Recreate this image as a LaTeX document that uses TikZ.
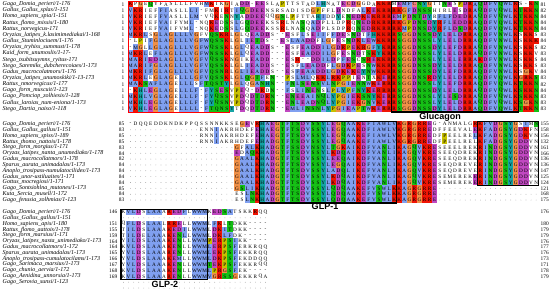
\documentclass[tikz,border=0pt]{standalone}
\usepackage{fontspec}
\setmainfont{Liberation Serif}
\newfontfamily\lblfont{Liberation Sans}
\definecolor{cb}{HTML}{80A0F0}
\definecolor{cr}{HTML}{F01505}
\definecolor{cm}{HTML}{C048C0}
\definecolor{cgr}{HTML}{15C015}
\definecolor{co}{HTML}{F09048}
\definecolor{cy}{HTML}{C8C000}
\definecolor{cc}{HTML}{15A4A4}
\definecolor{cp}{HTML}{F08080}
\colorlet{rcA}{cb}\colorlet{rcB}{white}\colorlet{rcC}{cp}\colorlet{rcD}{cm}
\colorlet{rcE}{cm}\colorlet{rcF}{cb}\colorlet{rcG}{co}\colorlet{rcH}{cc}
\colorlet{rcI}{cb}\colorlet{rcJ}{white}\colorlet{rcK}{cr}\colorlet{rcL}{cb}
\colorlet{rcM}{cb}\colorlet{rcN}{cgr}\colorlet{rcO}{white}\colorlet{rcP}{cy}
\colorlet{rcQ}{cgr}\colorlet{rcR}{cr}\colorlet{rcS}{cgr}\colorlet{rcT}{cgr}
\colorlet{rcU}{white}\colorlet{rcV}{cb}\colorlet{rcW}{cb}\colorlet{rcX}{white}
\colorlet{rcY}{cc}\colorlet{rcZ}{white}
\newdimen\sqx \newdimen\sqxb \newdimen\sqxm
\newdimen\sqy \newdimen\sqyt \newdimen\sqyb
\newdimen\sqrowx \newdimen\sqcw \newdimen\sqhh
\newcount\sqci
\sqcw=5.07pt
\def\drawcell#1{%
  \sqx=\sqcw \multiply\sqx by \sqci \advance\sqx by \sqrowx
  \sqxb=\sqx \advance\sqxb by \sqcw
  \sqxm=\sqx \advance\sqxm by 0.5\sqcw
  \ifnum`#1=46 \fill[gray] (\sqxm,\sqy) circle (0.35pt);%
  \else\ifnum`#1=45 \node[res] at (\sqxm,\sqy) {-};%
  \else\ifnum`#1<97 \fill[fill=rc#1] (\sqx,\sqyt) rectangle (\sqxb,\sqyb);%
     \node[res] at (\sqxm,\sqy) {#1};%
  \else \node[res] at (\sqxm,\sqy) {\uppercase{#1}};%
  \fi\fi\fi}
\def\seqscan#1{\ifx#1\relax\else\drawcell{#1}\advance\sqci by 1 \expandafter\seqscan\fi}
\newcommand\arow[6]{%
  \sqy=-#1pt \sqyt=\sqy \advance\sqyt by \sqhh \sqyb=\sqy \advance\sqyb by -\sqhh
  \if\relax\detokenize{#2}\relax\else\node[nm,anchor=west] at (2.5pt,\sqy) {\detokenize{#2}};\fi
  \if\relax\detokenize{#3}\relax\else\node[num,anchor=east] at ({#4pt-3.5pt},\sqy) {#3};\fi
  \sqrowx=#4pt \sqci=0 \seqscan#5\relax
  \if\relax\detokenize{#6}\relax\else\node[num,anchor=west] at (540.5pt,\sqy) {#6};\fi}
\begin{document}
\begin{tikzpicture}[
  res/.style={inner sep=0pt, font=\fontsize{5.2}{6}\selectfont},
  nm/.style={inner sep=0pt, font=\fontsize{6.0}{7}\selectfont\itshape},
  num/.style={inner sep=0pt, font=\fontsize{5.4}{6}\selectfont},
  lbl/.style={inner sep=0.6pt, font=\lblfont\fontsize{9}{10}\selectfont\bfseries},
  redbox/.style={draw=red, line width=0.9pt},
  blkbox/.style={draw=black, line width=1.1pt}]
\useasboundingbox (0pt,0pt) rectangle (550pt,-299pt);
\fill[white] (0pt,0pt) rectangle (550pt,-299pt);
% ---------- block 1
\sqhh=3.075pt
\arow{4.3}{Gaga_Domia_perieri/1-176}{1}{128}{KpGeQyfaslllfvhMKikGiaDD-EEslaPttstadLHnatECDGgdaKKRmEMFCNYGtiNEsPDRAQDFVQWLKs-KN}{81}
\arow{10.45}{Gallus_Gallus_splas/1-151}{1}{128}{VKRiefFIasllLI-fmKiRtIQGDEEnsrsadisdGPfflDndfaLKEKRRRKGFDNSShirlEsDRAQDFVQWLKTKKN}{82}
\arow{16.6}{Homo_sapiens_spia/1-151}{1}{128}{VKRiefFVasllLM-vqKeNnYaDDEEqqGSlPfttaHIddYeNEDKEKRRREMPDNTDYrFLFDEDRAQDFVQWLKTKKN}{84}
\arow{22.75}{Rattus_flomo_missis/1-180}{1}{128}{VKRiefVAifymL-nqKEdSsLgQDEEkssRlnaSqADplldpRqNEDRKRRRKGPDNSDYRFLEDDRAQDFVQWLKTKKN}{84}
\arow{28.9}{Rattus_norvegicus-171}{1}{128}{VKRiefVAifvmL-nqKEdSsLgQDEEkssRlnaSqADplsdpRqNEDRKRRRKMPDNSDYRFLDSDRAQDFVQWLKTKKN}{84}
\arow{35.05}{Oryzias_latipes_k.lasimimediakai/1-168}{1}{128}{MKRLsGLAGLLLVGfvQSKRlGlqEADDs--EsfLsEIIfFDEsNDtFHKKRRSGGDNSSDYLELDRRAQDFVNWLKsKKs}{83}
\arow{41.2}{Gallus_Stuminlociuem/1-176}{1}{128}{-lPiFGLAGLLLVGFWQSSKlGlIETDs--EsLAADDfLGfEsNDKLEWKKRRSGGDNSSLYLELDRRAQDFVNWLKsKKK}{84}
\arow{47.35}{Oryzias_tryhiss_summust/1-178}{1}{128}{-MGlLGLAGLLLVGFWQSSKlGLqEADDs--EsfEADDILGDRPEKRGFYKRRSGGDNSSDYLEFDRRAQDFVNWLKsKKs}{82}
\arow{53.5}{Kaid_form_unumoslis/1-17-}{1}{128}{MKRLeFLAGLLLVGFWNSSKlGLqEADD---EsfEADDILGfEsNDtSKYKRRSGGDNSSLYLELDRRAQDFVNWLKsKKv}{83}
\arow{59.65}{Stego_tsubitsuymns_ryitus-171}{1}{128}{MARIEDLAGLLLVGFVQSSKnGikEADD---EsR--DDILDpFEScSREKKRRSGGDNSSLYLELERRAKDFVNWLKsKKs}{84}
\arow{65.8}{Stego_Saremiks_dubcherecoiaes/1-173}{1}{128}{MARIFGLAGLLLVGFVQSSKlGlIEADDs--EsfLEADDfLGDKPEsNWKKRRSGGDNSSDYLELDRRAQDFVNWLKsKKs}{83}
\arow{71.95}{Gadus_macrocolatmors/1-176}{1}{128}{MKRIFGLAGLLLVGFVQSNRlGLIEADDs--EsFEAADDLGDKEKEYNWKKRRSGGDNSSDYLEFDRRAQDFVNWLKsGKv}{84}
\arow{78.1}{Oryzias_latipes_unumoskiki/1-13-173}{1}{128}{MKRLeGLAGeLLLGFVQSSKlGLQGTFeN--PsLMLqKKLRKPPiEnTXKERRSGGDNSRDYLELDRRAQDFVQWLKGRKS}{83}
\arow{84.25}{Rattus_nmorvegicus/1-177}{1}{128}{MAKSAFLAGeLLLsFTQSTYlGLqGANHN--FNLSENSVLNPGIENNWKERRRSGGDNSSLYLEFDRRAQDFVQWLKTKKN}{82}
\arow{90.4}{Gago_form_muscuit/1-123}{1}{128}{-KHLEGLAGeLLLF-FYSESvPEq-DRdN--FsLINENsLPLYPFNYKERRRRSGGDNSSDYLELDRRAQDFVQWLKSKKN}{84}
\arow{96.55}{Gago_Pomciop_zolhiesis/1-128}{1}{128}{MKHLVGLAGeLLLF-FYQSSvPDqDTDRN--ENEEAINQLYPGIEKSNYKERRSGGDNSSLYLESDRRAQDFVQWLKSKKN}{83}
\arow{102.7}{Gallus_laroias_num-eniona/1-173}{1}{128}{MKHLEGLAGeLLLF-FYQSNvPDqDTDRN--ENLEADNQLYPGIEKGNVKERRSGGDNSSLYLELDRRAQDFVQWLKSGKN}{83}
\arow{108.85}{Stego_Dartia_naiso/1-118}{1}{128}{VKHLEGLAGeLLLL-FTQNSYtDqDTDRN--EMLINSNLYPGIEAPTWKERRRSGGDNSSDYLELDRRAQDFVQWLKTKKN}{83}
\draw[redbox] (128pt,-1.2pt) rectangle (229.4pt,-112pt);
\draw[blkbox] (391.6pt,-1.2pt) rectangle (518.4pt,-112pt);
\node[lbl] (glucagon) at (440pt,-117pt) {Glucagon};
% ---------- block 2
\sqhh=2.925pt
\arow{124}{Gago_Domia_perieri/1-176}{85}{128}{-dqqeddkndkppqssnnkkseGEvRHAEGTFTSDVSSYLEGQAAKEFIAWLVKGRGRREg-anmalgRKFVDGSYGsImN}{155}
\arow{129.85}{Gallus_Gallus_gallus/1-151}{83}{128}{..............ennIakrhdefEHAEGTFTSDVSSYLEGQAAKDFIAWLVKGRGRREdffeevalEKFADGSYGDKfn}{158}
\arow{135.7}{Homo_sapiens_spiss/1-189}{85}{128}{..............rnnIakrhdefEHAEGTFTSDVSSYLEGQAAKEFIAWLVKGRGRREdfPeelreLKFADGSYGDKvn}{156}
\arow{141.55}{Rattus_thomo_nattois/1-178}{85}{128}{..............rnnIakrhdefEHADGTFTSDVSSYLEGQAAKEFIAWLVKGRGRREdfPeelrelKFADGSYGDDvn}{132}
\arow{147.4}{Stego_form_morgius/1-171}{83}{128}{.....................GfALKHADGTFSSDVNSYLTGKAIKDFVANLIKAGQVKREseeelrekRINDGSYGDDvn}{161}
\arow{153.25}{Oryzas_latipes_nanta_unumediako/1-178}{84}{128}{.....................EdAQKHADGTFTSDVSSYLKDQAIKDFVANLIKAGQVKREseeqdrekRINDGSYGDDvn}{166}
\arow{159.1}{Gadus_macrocollatmors/1-178}{82}{128}{.....................GAALKHADGTFTSDVSSYLEEQAIKDFVANLIKAGQVKREseeqdrekRINDGSYGDDvn}{136}
\arow{164.95}{Sparus_aurata_unimadalas/1-173}{84}{128}{.....................GAALKHADGTFTSDVSSYLEGQAIKDFVANLIKAGQVKREseqdreveRINDGSYGDDvn}{136}
\arow{170.8}{Anoplo_trosipass-numulatocilides/1-173}{84}{128}{.....................GAALKHADGTFTSDVSSYLADQLIKEFVANLIKAGQVKREseqdreveRINDGSYGDDvn}{147}
\arow{176.65}{Gadus_unor-ustiluaites/1-171}{84}{128}{.....................GAALKHADGTFTSDVSSYLKDQAIKDFVANLIKAGQVKREsemerekERINDGSYGDDvn}{125}
\arow{182.5}{Gottus_mocregiosi/1-171}{84}{128}{.....................GAALKHADGTFTSDVSSYLKDQAIKDFVANLIKAGQVKREsemerekERINDGSYGDDvn}{124}
\arow{188.35}{Gago_Sontsiohlna_mutones/1-173}{85}{128}{.....................GSLIKHADGTFTSDVSSYLQDQAAKEFVSWLKKAGRGRRE....................}{121}
\arow{194.2}{Kuta_Sercia_musell/1-172}{84}{128}{.....................esLNKHADGTFTSDVSSYLQDQAAKEFVSWLKKAGRGRRE....................}{168}
\arow{200.05}{Gago_fenusia_zolhmias/1-123}{83}{128}{.....................esLNKHADGTFTSDVSSYLQDQAAKEFVSWLKKAGRGRRE....................}{175}
\draw[blkbox] (259.8pt,-121.07pt) rectangle (396.7pt,-202.98pt);
\draw[blkbox] (477.8pt,-121.07pt) rectangle (538.7pt,-185.43pt);
\node[lbl] (glp1) at (325pt,-206.5pt) {GLP-1};
% ---------- block 3
\arow{212}{Gago_Domia_perieri/1-176}{146}{121}{kVLDsLAAaREDFlWWMkEDSAtskkRqq}{176}
\arow{217.85}{Gallus_Gallus_gallus/1-151}{}{121}{.............................}{}
\arow{223.7}{Homo_sapiens_apis/1-180}{151}{121}{qFLDsLAAlRREllWWMlFKlTdkk----}{180}
\arow{229.55}{Rattus_flomo_aattois/1-178}{155}{121}{tILDsLAAaKEDIlWWMlDKITdkk----}{179}
\arow{235.4}{Stego_form_marsius/1-171}{159}{121}{tILDeLAAaKENLlWWMlDKLFdk-----}{179}
\arow{241.25}{Oryzas_latipes_nasta_unimediako/1-173}{164}{121}{yILDsLAAaKENllWWMPERPSIkk----}{176}
\arow{247.1}{Gadus_macrocollatmors/1-172}{164}{121}{kVLDsLAAaKENllWWMLERPSFerkrqq}{177}
\arow{252.95}{Sparus_aurata_unimadalas/1-173}{165}{121}{yVLDsLAAaRENllWWMLEKPSFekkrqq}{176}
\arow{258.8}{Anoplo_trosipass-cumulatocilams/1-173}{166}{121}{yVLDsLAAaKEMllWWMLDKPSFekddqq}{173}
\arow{264.65}{Gago_Sarimaca_marsius/1-173}{167}{121}{yVLDsLAAaKENllWWMTEKPSFekkrqq}{171}
\arow{270.5}{Gago_chunio_aervia/1-172}{168}{121}{kVLDsLAAaKENllWWMLPRGSFek----}{178}
\arow{276.35}{Gago_Aenidina_unnorsia/1-173}{169}{121}{kVLDsLAAaRENllWWMVGRSSGekkrqa}{179}
\arow{282.2}{Gago_Serovia_sunsi/1-123}{}{121}{.............................}{}
\arow{288.05}{}{}{121}{.............................}{}
\draw[blkbox] (121pt,-209.07pt) rectangle (207.2pt,-279.3pt);
\node[lbl, fill=white] (glp2) at (165pt,-284.5pt) {GLP-2};
\end{tikzpicture}
\end{document}
